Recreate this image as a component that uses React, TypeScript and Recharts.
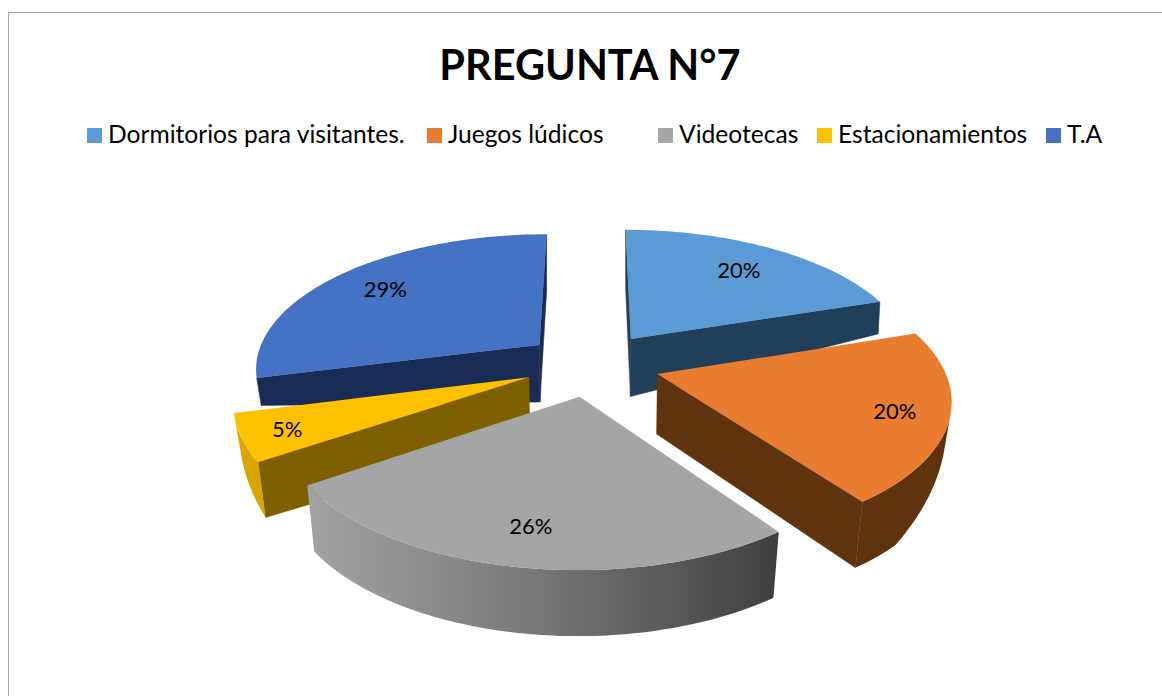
import { Legend, Pie, PieChart } from 'recharts';

const CATEGORIES = ['Dormitorios para visitantes.', 'Juegos lúdicos', 'Videotecas', 'Estacionamientos', 'T.A'];
const VALUES = [20, 20, 25.6, 5.4, 29];
const TOP_COLORS = ['#5b9bd5', '#ea7c30', '#a5a5a5', '#ffc000', '#4472c4'];
const CUT_COLORS = ['#223f59', '#60330f', '#636363', '#7f6000', '#182c56'];
const WALL_COLORS = ['#223f59', '#60330f', 'url(#grayWall)', '#dba400', '#2a4a85'];
// slices are painted back to front, so each one gets its own Pie
const DRAW_ORDER = [4, 0, 3, 1, 2];
const LABEL_RADIUS = [0.75, 0.82, 0.79, 0.85, 0.77];
const LEGEND_LEFT = [87, 427, 658, 817, 1046];

const data = CATEGORIES.map((name, i) => ({ name, value: VALUES[i], fill: TOP_COLORS[i] }));

const FONT = 'Lato, sans-serif';
const EXPLODE = 68;
const TILT = 0.47;
const PERSPECTIVE = 0.16;

type Pt = [number, number];

function project(x: number, y: number, cx: number, cy: number, r: number): Pt {
  const s = 1 / (1 - (PERSPECTIVE * y) / r);
  return [cx + x * s, cy + y * TILT * s];
}

/** Where a point of the top face ends up on the bottom face. */
function lower([x, y]: Pt, cx: number, cy: number): Pt {
  const dx = (x - cx) / 320;
  const front = y > cy ? 0.33 * (y - cy) : 0;
  const depth = Math.min(66, 58 * (1 - 0.55 * dx * dx) + front);
  return [x + (cx - x) * (0.012 + (y - cy) * 0.0001), y + depth];
}

const toPath = (pts: Pt[]) => 'M' + pts.map(p => `${p[0].toFixed(1)},${p[1].toFixed(1)}`).join('L') + 'Z';

function area(pts: Pt[]) {
  let a = 0;
  pts.forEach((p, i) => {
    const q = pts[(i + 1) % pts.length];
    a += p[0] * q[1] - q[0] * p[1];
  });
  return a / 2;
}

function Slice3D({ cx, cy, outerRadius, startAngle, endAngle, fill, name }: any) {
  const index = CATEGORIES.indexOf(name);
  const a0 = 90 - startAngle;
  const a1 = 90 - endAngle;
  const mid = (((a0 + a1) / 2) * Math.PI) / 180;
  const ox = Math.sin(mid) * EXPLODE;
  const oy = -Math.cos(mid) * EXPLODE;
  const at = (x: number, y: number) => project(ox + x, oy + y, cx, cy, outerRadius);

  const steps = Math.max(2, Math.round(a1 - a0));
  const arc: Pt[] = [];
  for (let i = 0; i <= steps; i++) {
    const t = ((a0 + ((a1 - a0) * i) / steps) * Math.PI) / 180;
    arc.push(at(Math.sin(t) * outerRadius, -Math.cos(t) * outerRadius));
  }
  const apex = at(0, 0);
  const low = (p: Pt) => lower(p, cx, cy);

  // outer wall: keep only the runs that face the viewer
  const runs: Pt[][] = [];
  let run: Pt[] = [];
  for (let i = 0; i < arc.length - 1; i++) {
    const facing = area([arc[i], arc[i + 1], low(arc[i + 1]), low(arc[i])]) < 0;
    if (facing) {
      if (!run.length) run.push(arc[i]);
      run.push(arc[i + 1]);
    } else if (run.length) {
      runs.push(run);
      run = [];
    }
  }
  if (run.length) runs.push(run);

  const first = arc[0];
  const last = arc[arc.length - 1];
  const cuts = [
    [apex, first, low(first), low(apex)],
    [last, apex, low(apex), low(last)],
  ].filter(q => area(q as Pt[]) < 0) as Pt[][];

  return (
    <g>
      {cuts.map((q, i) => (
        <path key={i} d={toPath(q)} fill={CUT_COLORS[index]} stroke={CUT_COLORS[index]} strokeWidth={0.5} />
      ))}
      {runs.map((r, i) => (
        <path key={i} d={toPath([...r, ...[...r].reverse().map(low)])} fill={WALL_COLORS[index]} />
      ))}
      <path d={toPath([apex, ...arc])} fill={fill} />
    </g>
  );
}

function renderLabel({ cx, cy, outerRadius, midAngle, value, index }: any) {
  const t = ((90 - midAngle) * Math.PI) / 180;
  const r = outerRadius * LABEL_RADIUS[index];
  const [x, y] = project(
    Math.sin(t) * (EXPLODE + r),
    -Math.cos(t) * (EXPLODE + r),
    cx,
    cy,
    outerRadius,
  );
  return (
    <text x={x} y={y} textAnchor="middle" dominantBaseline="central" fontFamily={FONT} fontSize={22} fill="#000">
      {`${Math.round(value)}%`}
    </text>
  );
}

function LegendRow() {
  // zero height so the legend takes no room from the plot area
  return (
    <div style={{ position: 'relative', height: 0, width: 1162, fontFamily: FONT, fontSize: 24.6, color: '#000' }}>
      {CATEGORIES.map((name, i) => (
        <div key={name} style={{ position: 'absolute', left: LEGEND_LEFT[i], top: 0, whiteSpace: 'nowrap', lineHeight: '30px' }}>
          <span style={{ display: 'inline-block', width: 15, height: 15, marginRight: 6, background: TOP_COLORS[i] }} />
          {name}
        </div>
      ))}
    </div>
  );
}

export default function App() {
  return (
    <div
      style={{
        position: 'absolute',
        left: 0,
        top: 0,
        width: 1162,
        height: 696,
        background: '#fff',
        overflow: 'hidden',
      }}
    >
      <div style={{ position: 'absolute', left: 8, top: 12, width: 1154, height: 684, borderLeft: '1px solid #a6a6a6', borderTop: '1px solid #a6a6a6' }} />
      <PieChart width={1162} height={696} margin={{ top: 0, right: 0, bottom: 0, left: 0 }}>
        <defs>
          <linearGradient id="grayWall" x1="0" y1="0" x2="1" y2="0">
            <stop offset="0%" stopColor="#a3a3a3" />
            <stop offset="50%" stopColor="#767676" />
            <stop offset="100%" stopColor="#3f3f3f" />
          </linearGradient>
        </defs>
        <text x={590} y={64} textAnchor="middle" dominantBaseline="central" fontFamily={FONT} fontWeight={700} fontSize={41.5} fill="#000">
          PREGUNTA N°7
        </text>
        <Legend
          verticalAlign="top"
          align="left"
          content={<LegendRow />}
          wrapperStyle={{ left: 0, top: 119, width: 1162 }}
        />
        {DRAW_ORDER.map((k, pos) => (
          <Pie
            key={k}
            data={data}
            dataKey="value"
            nameKey="name"
            cx={592}
            cy={364}
            outerRadius={285}
            startAngle={90}
            endAngle={-270}
            stroke="none"
            isAnimationActive={false}
            labelLine={false}
            label={pos === DRAW_ORDER.length - 1 ? renderLabel : false}
            shape={(p: any) => (p.name === CATEGORIES[k] ? <Slice3D {...p} /> : <g />)}
          />
        ))}
      </PieChart>
    </div>
  );
}
